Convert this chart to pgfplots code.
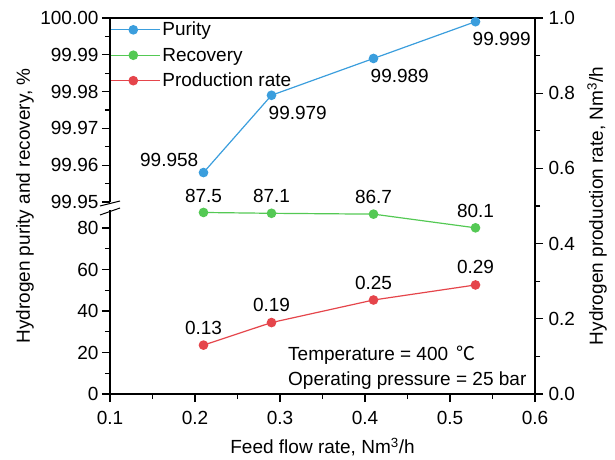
\documentclass[border=0pt]{standalone}
\usepackage{pgfplots}
\pgfplotsset{compat=1.18}
\usepackage{fontspec}
\setmainfont{Liberation Sans}
\newfontfamily\cjk{Noto Sans CJK SC}
\definecolor{cblue}{RGB}{59,158,221}
\definecolor{cgreen}{RGB}{84,201,84}
\definecolor{cred}{RGB}{229,69,75}
\pgfplotsset{
  base/.style={
    scale only axis, width=425pt,
    xmin=0.1, xmax=0.6,
    /pgf/number format/assume math mode=true,
    axis line style={line width=1.2pt, black},
    every tick/.style={line width=1.1pt, black},
    major tick length=8pt, minor tick length=5pt,
    tick align=outside,
    clip=false,
  },
  ser/.style={line width=1.2pt, mark=*, mark size=4.2pt, mark options={solid}},
  lab/.style={draw=none, forget plot, nodes near coords, point meta=explicit symbolic},
  legend image code/.code={\draw[mark repeat=2,mark phase=2,#1] plot coordinates {(0pt,0pt) (22.5pt,0pt) (45pt,0pt)};\path (45pt,0pt) -- (49pt,0pt);},
}
\begin{document}
\begin{tikzpicture}[font=\fontsize{19}{22}\selectfont]
% main axis: x axis and right y axis (production rate)
\begin{axis}[base, at={(0,0)}, anchor=south west, height=376pt,
  ymin=0, ymax=1,
  axis x line*=bottom, axis y line*=right,
  xtick={0.1,0.2,0.3,0.4,0.5,0.6}, minor x tick num=1,
  ytick={0,0.2,0.4,0.6,0.8,1.0}, minor y tick num=1,
  xticklabel style={yshift=-6pt, /pgf/number format/fixed, /pgf/number format/fixed zerofill, /pgf/number format/precision=1},
  yticklabel style={xshift=2pt, /pgf/number format/fixed, /pgf/number format/fixed zerofill, /pgf/number format/precision=1},
  xlabel={Feed flow rate, Nm\textsuperscript{3}/h},
  ylabel={Hydrogen production rate, Nm\textsuperscript{3}/h},
  every axis x label/.style={at={(axis description cs:0.5,0)}, yshift=-53pt, anchor=center},
  every axis y label/.style={at={(axis description cs:1,0.5)}, xshift=62pt, rotate=90, anchor=center},
]
\addplot[ser, cred] coordinates {(0.21,0.13) (0.29,0.19) (0.41,0.25) (0.53,0.29)};
\addplot[lab, nodes near coords style={anchor=center, yshift=17.5pt, inner sep=0pt, text=black}]
  coordinates {(0.21,0.13)[0.13] (0.29,0.19)[0.19] (0.41,0.25)[0.25] (0.53,0.29)[0.29]};
\draw[line width=1.2pt] (rel axis cs:0,1) -- (rel axis cs:1,1);
\end{axis}
% lower left axis: recovery
\begin{axis}[base, at={(0,0)}, anchor=south west, height=183.6pt,
  ymin=0, ymax=88.5,
  axis x line=none, axis y line*=left,
  ytick={0,20,40,60,80}, minor y tick num=1,
  ylabel={Hydrogen purity and recovery, \%},
  every axis y label/.style={at={(axis description cs:0,1.024)}, xshift=-85pt, rotate=90, anchor=center},
]
\addplot[ser, cgreen] coordinates {(0.21,87.5) (0.29,87.1) (0.41,86.7) (0.53,80.1)};
\addplot[lab, nodes near coords style={anchor=center, yshift=17pt, inner sep=0pt, text=black}]
  coordinates {(0.21,87.5)[87.5] (0.29,87.1)[87.1] (0.41,86.7)[86.7] (0.53,80.1)[80.1]};
\end{axis}
% upper left axis: purity
\begin{axis}[base, at={(0,192pt)}, anchor=south west, height=184pt,
  ymin=99.95, ymax=100,
  axis x line=none, axis y line*=left,
  ytick={99.95,99.96,99.97,99.98,99.99,100}, minor y tick num=1,
  yticklabels={99.95,99.96,99.97,99.98,99.99,100.00},
  legend style={at={(axis description cs:0,1)}, anchor=north west, yshift=-2pt, draw=none, fill=none,
    inner sep=0pt, row sep=6.5pt, font=\fontsize{19}{22}\selectfont},
  legend cell align=left,
]
\addplot[ser, cblue] coordinates {(0.21,99.958) (0.29,99.979) (0.41,99.989) (0.53,99.999)};
\addlegendentry{Purity}
\addlegendimage{ser, cgreen}
\addlegendentry{Recovery}
\addlegendimage{ser, cred}
\addlegendentry{Production rate}
\addplot[lab, nodes near coords style={anchor=east, xshift=-5pt, yshift=13pt, inner sep=0pt, text=black}]
  coordinates {(0.21,99.958)[99.958]};
\addplot[lab, nodes near coords style={anchor=west, xshift=-3pt, yshift=-17.5pt, inner sep=0pt, text=black}]
  coordinates {(0.29,99.979)[99.979] (0.41,99.989)[99.989] (0.53,99.999)[99.999]};
\end{axis}
% axis break marks
\draw[line width=1pt] (-10pt,188pt) -- (10pt,193pt);
\draw[line width=1pt] (-10pt,179pt) -- (10pt,186pt);
% annotation
\node[anchor=base west, inner sep=0pt] at (178pt,34pt) {Temperature = 400\, {\cjk ℃}};
\node[anchor=base west, inner sep=0pt] at (178pt,9pt) {Operating pressure = 25 bar};
% frame of the reference image
\path (-110pt,-64pt) rectangle (505pt,394pt);
\end{tikzpicture}
\end{document}
